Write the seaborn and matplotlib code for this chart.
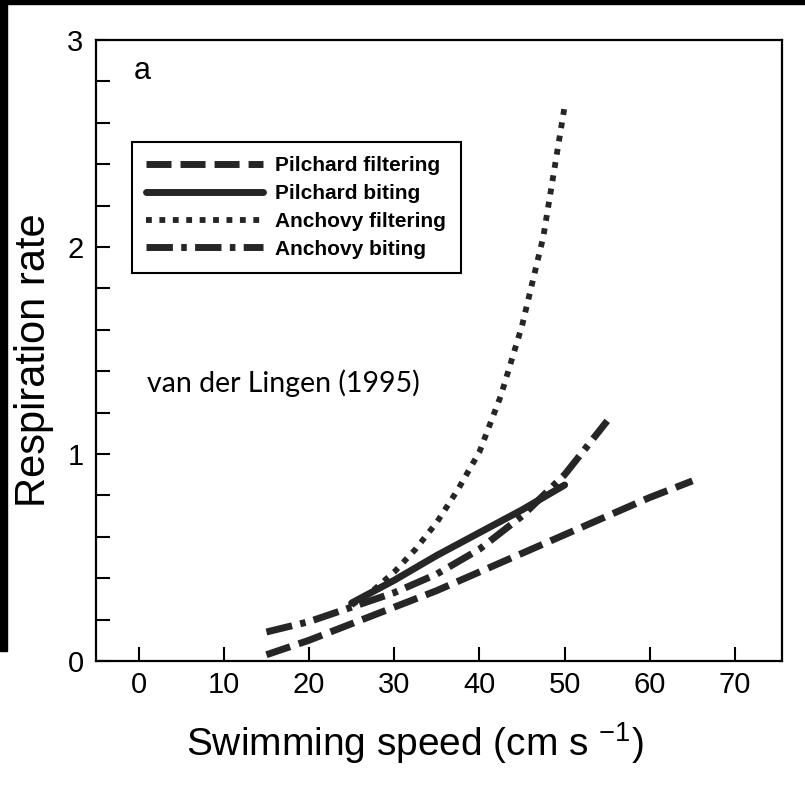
import numpy as np
import pandas as pd
import matplotlib
matplotlib.use("Agg")
import matplotlib.pyplot as plt
from matplotlib.patches import Rectangle
from matplotlib.ticker import MultipleLocator
import seaborn as sns

# values (van der Lingen 1995, panel a)
pilchard_filt_x = [15, 20, 25, 30, 35, 40, 45, 50, 55, 60, 65]
pilchard_filt_y = [0.03, 0.10, 0.18, 0.26, 0.34, 0.43, 0.52, 0.61, 0.70, 0.79, 0.87]

pilchard_bite_x = [25, 30, 35, 40, 45, 50]
pilchard_bite_y = [0.28, 0.39, 0.51, 0.62, 0.73, 0.85]

anchovy_filt_x = [25, 27.5, 30, 32.5, 35, 37.5, 40, 42.5, 45, 47.5, 50]
anchovy_filt_y = [0.27, 0.34, 0.43, 0.54, 0.67, 0.83, 1.01, 1.28, 1.62, 2.05, 2.68]

anchovy_bite_x = [15, 20, 25, 30, 35, 40, 45, 50, 55]
anchovy_bite_y = [0.14, 0.19, 0.26, 0.33, 0.42, 0.54, 0.70, 0.90, 1.16]

series_names = ["Pilchard filtering", "Pilchard biting", "Anchovy filtering", "Anchovy biting"]
x_ticks = [0, 10, 20, 30, 40, 50, 60, 70]
y_ticks = [0, 1, 2, 3]

sns.set_style("ticks")
plt.rcParams["font.family"] = ["Liberation Sans", "DejaVu Sans"]
plt.rcParams["mathtext.fontset"] = "custom"
plt.rcParams["mathtext.rm"] = "Liberation Sans"

line_col = "#262626"
styles = {
    "Pilchard filtering": dict(linestyle=(0, (3.6, 1.3)), lw=5),
    "Pilchard biting": dict(linestyle="-", lw=5),
    "Anchovy filtering": dict(linestyle=(0, (1.0, 1.3)), lw=4.2),
    "Anchovy biting": dict(linestyle=(0, (3.8, 1.2, 0.8, 1.2)), lw=5),
}
data = {
    "Pilchard filtering": (pilchard_filt_x, pilchard_filt_y),
    "Pilchard biting": (pilchard_bite_x, pilchard_bite_y),
    "Anchovy filtering": (anchovy_filt_x, anchovy_filt_y),
    "Anchovy biting": (anchovy_bite_x, anchovy_bite_y),
}

fig = plt.figure(figsize=(8.05, 7.93), dpi=100)
ax = fig.add_axes([0.1193, 0.1665, 0.852, 0.783])

for name in series_names:
    xs, ys = data[name]
    df = pd.DataFrame({"speed": xs, "resp": ys})
    sns.lineplot(data=df, x="speed", y="resp", ax=ax, color=line_col,
                 label=name, **styles[name])

ax.set_xlim(-5, 75.5)
ax.set_ylim(0, 3)
ax.set_xticks(x_ticks)
ax.set_yticks(y_ticks)
ax.yaxis.set_minor_locator(MultipleLocator(0.2))
ax.tick_params(axis="both", which="both", direction="in", length=10,
               width=1.5, color="black", labelcolor="black")
ax.tick_params(axis="x", labelsize=21, pad=7)
ax.tick_params(axis="y", labelsize=21, pad=9)
for s in ax.spines.values():
    s.set_linewidth(1.6)
    s.set_color("black")

ax.set_xlabel("Swimming speed (cm s $^{\\mathregular{-1}}$)", fontsize=28, color="black")
ax.xaxis.set_label_coords(0.465, -0.095)
ax.set_ylabel("Respiration rate", fontsize=30, color="black")
ax.yaxis.set_label_coords(-0.062, 0.485)

ax.text(-0.6, 2.85, "a", fontsize=22, ha="left", va="center", color="black")
ax.text(1.0, 1.30, "van der Lingen (1995)", fontsize=20.5, family=["Lato", "DejaVu Sans"],
        ha="left", va="baseline", color="black")

leg = ax.legend(loc="upper left", bbox_to_anchor=(0.052, 0.836), borderaxespad=0,
                frameon=True, fancybox=False, edgecolor="black", framealpha=1,
                handlelength=5.6, handletextpad=0.6, labelspacing=0.42,
                borderpad=0.7, prop={"size": 15, "weight": "bold"})
leg.get_frame().set_linewidth(1.5)
for t in leg.get_texts():
    t.set_color("black")

# dark scan border along the top and left edges
fig.patches.append(Rectangle((0, 1 - 4 / 793), 1, 4 / 793, transform=fig.transFigure,
                             color="black", zorder=10))
fig.patches.append(Rectangle((0, 1 - 651 / 793), 7 / 805, 651 / 793,
                             transform=fig.transFigure, color="black", zorder=10))

fig.savefig("out.png", dpi=100)
